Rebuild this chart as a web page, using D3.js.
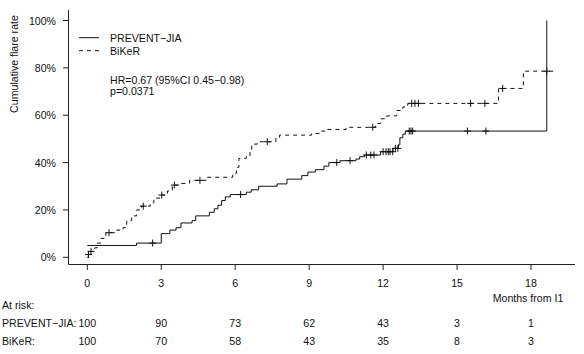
<!DOCTYPE html>
<html>
<head>
<meta charset="utf-8">
<script src="https://cdn.jsdelivr.net/npm/d3@7"></script>
<style>
  body { margin: 0; background: #fff; }
  svg text { font-family: "Liberation Sans", Arial, sans-serif; font-size: 10.6px; fill: #111; }
</style>
</head>
<body>
<div id="chart"></div>
<script>
// step points: [months, cumulative flare %]
var preventSteps = [[0,5],[2.0,6],[3.0,10],[3.35,11.5],[3.6,12.5],[3.8,14.5],[4.25,15.5],[4.4,17.5],
  [4.95,19],[5.15,20.5],[5.3,22],[5.45,24],[5.6,25.5],[5.8,26.5],[6.45,27.5],[6.65,28.5],[6.95,30],
  [7.7,31],[8.1,33],[8.7,34.5],[8.95,36],[9.25,37],[9.6,38.5],[9.8,40],[10.25,40.8],[10.9,41.5],
  [11.05,42.5],[11.25,43.2],[11.9,44.6],[12.4,46],[12.62,47.5],[12.68,50.5],[12.8,52],[12.9,53.3],[18.64,100]];
var preventCensor = [2.65,6.22,10.12,10.66,11.32,11.5,11.63,12.0,12.12,12.21,12.28,12.39,12.5,12.6,
  13.06,13.13,13.2,15.42,16.17];
var preventEnd = 18.64;

var bikerSteps = [[0,0],[0.04,1.2],[0.12,2.5],[0.3,4],[0.4,6],[0.55,8],[0.75,10.4],[1.2,11.5],[1.45,12.5],
  [1.6,15.5],[1.8,17.5],[2.0,20],[2.2,21.6],[2.55,23],[2.7,25],[2.95,26.3],[3.25,28],[3.45,30.5],
  [3.8,31.2],[4.15,32.5],[4.85,33.8],[5.9,35.5],[6.05,38],[6.15,41.8],[6.45,42.7],[6.6,45.3],[6.67,47.8],
  [6.9,48.8],[7.65,50.5],[7.8,51.6],[9.1,52.3],[9.5,53.3],[9.65,54],[10.5,54.9],[11.7,56.5],[11.9,58.5],
  [12.15,59.7],[12.55,62],[12.8,63.5],[13.0,65],[16.68,71.3],[17.69,78.6]];
var bikerCensor = [0.05,0.15,0.88,2.27,3.02,3.53,4.57,7.3,11.58,13.16,13.29,13.43,15.55,16.13,16.85,18.64];
var bikerEnd = 19.04;

var xTicks = [0,3,6,9,12,15,18];
var yTicks = [0,20,40,60,80,100];
var riskPrevent = [100,90,73,62,43,3,1];
var riskBiker = [100,70,58,43,35,8,3];

var width = 584, height = 354;

var svg = d3.select("#chart").append("svg")
    .attr("width", width)
    .attr("height", height);

var x = d3.scaleLinear().domain([0,18]).range([87.3,531]);
var y = d3.scaleLinear().domain([0,100]).range([257.3,20.5]);

// frame (L shape)
svg.append("path")
    .attr("d", "M68.5,10V264.5H575")
    .attr("fill", "none")
    .attr("stroke", "#222");

// y axis ticks
yTicks.forEach(function(v){
    svg.append("line")
        .attr("x1", 63).attr("x2", 68.5)
        .attr("y1", y(v)).attr("y2", y(v))
        .attr("stroke", "#222");
    svg.append("text")
        .attr("x", 56).attr("y", y(v) + 4)
        .attr("text-anchor", "end")
        .text(v + "%");
});

// x axis ticks
xTicks.forEach(function(v){
    svg.append("line")
        .attr("x1", x(v)).attr("x2", x(v))
        .attr("y1", 264.5).attr("y2", 270)
        .attr("stroke", "#222");
    svg.append("text")
        .attr("x", x(v)).attr("y", 286.5)
        .attr("text-anchor", "middle")
        .text(v);
});

svg.append("text")
    .attr("x", x(18) - 3).attr("y", 301.5)
    .attr("text-anchor", "middle")
    .text("Months from I1");

svg.append("text")
    .attr("transform", "translate(18,64) rotate(-90)")
    .attr("text-anchor", "middle")
    .text("Cumulative flare rate");

var line = d3.line()
    .x(function(d){ return x(d[0]); })
    .y(function(d){ return y(d[1]); })
    .curve(d3.curveStepAfter);

function valueAt(steps, t) {
    var v = steps[0][1];
    steps.forEach(function(s){ if (s[0] <= t) v = s[1]; });
    return v;
}

function drawArm(steps, censor, end, dash) {
    var pts = steps.slice();
    var last = pts[pts.length - 1];
    if (end > last[0]) pts.push([end, last[1]]);
    svg.append("path")
        .attr("d", line(pts))
        .attr("fill", "none")
        .attr("stroke", "#111")
        .attr("stroke-width", 1)
        .attr("stroke-dasharray", dash);
    censor.forEach(function(t){
        var cx = x(t), cy = y(valueAt(steps, t));
        svg.append("path")
            .attr("d", "M" + (cx - 3.5) + "," + cy + "H" + (cx + 3.5) + "M" + cx + "," + (cy - 3.5) + "V" + (cy + 3.5))
            .attr("stroke", "#111")
            .attr("fill", "none");
    });
}

drawArm(preventSteps, preventCensor, preventEnd, null);
drawArm(bikerSteps, bikerCensor, bikerEnd, "4,4");

// legend
svg.append("line").attr("x1", 79).attr("x2", 99).attr("y1", 37.7).attr("y2", 37.7).attr("stroke", "#111");
svg.append("line").attr("x1", 79).attr("x2", 99).attr("y1", 50.7).attr("y2", 50.7)
    .attr("stroke", "#111").attr("stroke-dasharray", "4,4");
svg.append("text").attr("x", 110).attr("y", 41.7).text("PREVENT\u2212JIA");
svg.append("text").attr("x", 110).attr("y", 54.7).text("BiKeR");
svg.append("text").attr("x", 110).attr("y", 84).text("HR=0.67 (95%CI 0.45\u22120.98)");
svg.append("text").attr("x", 110).attr("y", 95).text("p=0.0371");

// at risk table
svg.append("text").attr("x", 2).attr("y", 309).text("At risk:");
svg.append("text").attr("x", 2).attr("y", 327.3).text("PREVENT\u2212JIA:");
svg.append("text").attr("x", 2).attr("y", 345.3).text("BiKeR:");

riskPrevent.forEach(function(n, i){
    svg.append("text").attr("x", x(xTicks[i])).attr("y", 327.3)
        .attr("text-anchor", "middle").text(n);
});
riskBiker.forEach(function(n, i){
    svg.append("text").attr("x", x(xTicks[i])).attr("y", 345.3)
        .attr("text-anchor", "middle").text(n);
});
</script>
</body>
</html>
